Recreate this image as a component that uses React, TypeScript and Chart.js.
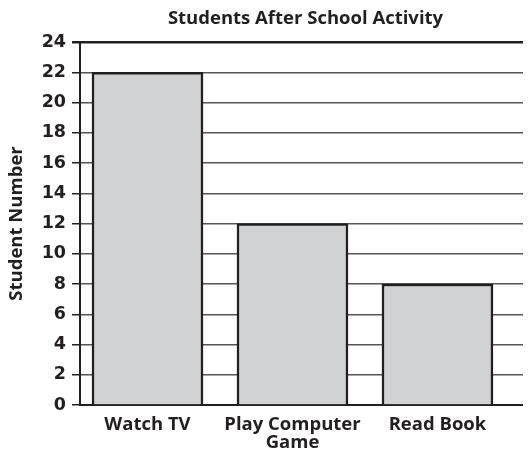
import React, { useEffect, useRef } from "react";
import { Chart, registerables } from "chart.js";

Chart.register(...registerables);

const categories: (string | string[])[] = ["Watch TV", ["Play Computer", "Game"], "Read Book"];
const studentCounts = [22, 12, 8];
const yTicks = [0, 2, 4, 6, 8, 10, 12, 14, 16, 18, 20, 22, 24];
const titleText = "Students After School Activity";
const yTitleText = "Student Number";

export default function App() {
  const ref = useRef<HTMLCanvasElement | null>(null);
  useEffect(() => {
    if (!ref.current) return;
    const chart = new Chart(ref.current, {
      type: "bar",
      data: {
        datasets: [
          {
            data: studentCounts.map((v, i) => ({ x: i, y: v })),
            backgroundColor: "#d1d2d4",
            borderColor: "#231f20",
            borderWidth: 2.5,
            borderSkipped: "bottom",
            barThickness: 111,
          },
        ],
      },
      options: {
        animation: false,
        responsive: false,
        maintainAspectRatio: false,
        layout: { padding: 0 },
        plugins: {
          legend: { display: false },
          tooltip: { enabled: false },
          title: { display: false },
        },
        scales: {
          x: {
            type: "linear",
            offset: false,
            bounds: "data",
            min: -0.4655,
            max: 2.645,
            grid: { display: false, drawTicks: false, offset: false },
            border: { display: true, color: "#231f20", width: 2 },
            afterBuildTicks: (scale: any) => {
              scale.ticks = categories.map((_, i) => ({ value: i }));
            },
            afterFit: (scale: any) => {
              scale.height = 52;
            },
            ticks: {
              color: "#231f20",
              font: { family: "Open Sans", weight: "bold", size: 18.5, lineHeight: 1.0 },
              padding: 10,
              maxRotation: 0,
              autoSkip: false,
              callback: (v: any) => categories[v as number],
            },
          },
          xTitle: {
            type: "linear",
            position: "top",
            min: 0,
            max: 1,
            grid: { display: false, drawTicks: false },
            border: { display: false },
            ticks: { display: false },
            afterFit: (scale: any) => {
              scale.height = 42;
            },
            title: {
              display: true,
              text: titleText,
              color: "#231f20",
              font: { family: "Open Sans", weight: "bold", size: 18.5, lineHeight: 1.2 },
              padding: { top: 8, bottom: 0 },
            },
          },
          y: {
            min: 0,
            max: 24,
            afterBuildTicks: (scale: any) => {
              scale.ticks = yTicks.map((v) => ({ value: v }));
            },
            afterFit: (scale: any) => {
              scale.width = 80;
            },
            grid: {
              color: (ctx: any) => (ctx.tick && ctx.tick.value === 24 ? "#231f20" : "#555557"),
              lineWidth: (ctx: any) => (ctx.tick && ctx.tick.value === 24 ? 2.5 : 1.5),
              tickLength: 8,
              tickColor: "#231f20",
              drawTicks: true,
            },
            border: { display: true, color: "#231f20", width: 2 },
            ticks: {
              color: "#231f20",
              font: { family: "DejaVu Sans", weight: "bold", size: 17.5 },
              padding: 6,
            },
            title: {
              display: true,
              text: yTitleText,
              color: "#231f20",
              font: { family: "Open Sans", weight: "bold", size: 18.5, lineHeight: 1.2 },
              padding: { top: 6, bottom: 0 },
            },
          },
        },
      },
    });
    return () => chart.destroy();
  }, []);
  return (
    <div style={{ width: 531, height: 457, margin: -8 }}>
      <canvas ref={ref} width={531} height={457} style={{ display: "block" }} />
    </div>
  );
}
